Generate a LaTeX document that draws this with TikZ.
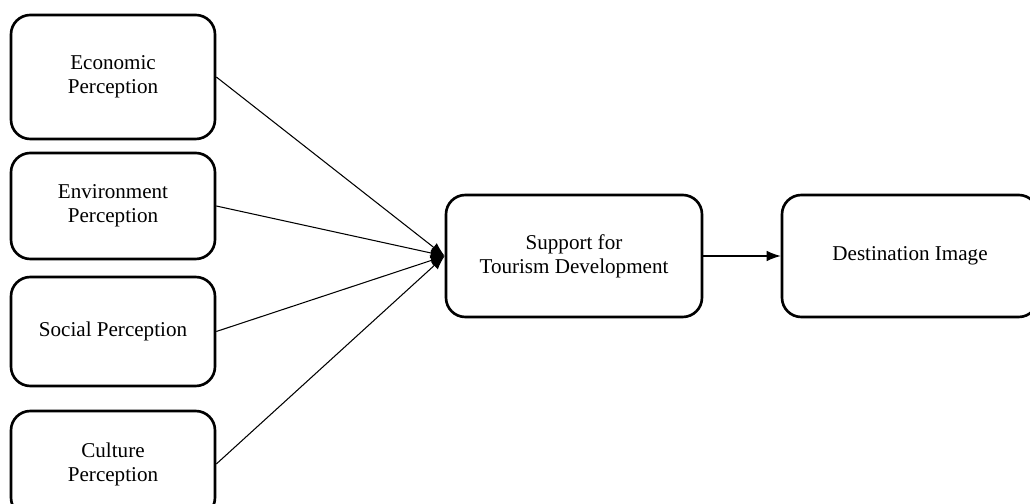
\documentclass[tikz,border=0pt]{standalone}
\usepackage{fontspec}
\setmainfont{Liberation Serif}
\usepackage{tikz}
\usetikzlibrary{arrows.meta}

\tikzset{
  factorbox/.style={draw=black, line width=1.5pt, rounded corners=11pt, align=center,
    font=\fontsize{12}{13.6}\selectfont, inner sep=2pt},
  link/.style={draw=black, line width=0.6pt, -{Latex[length=8pt, width=6pt]}}
}

\begin{document}
\begin{tikzpicture}
    \useasboundingbox (0,0) rectangle (20.6,10.08);
    % Perception boxes
    \node[factorbox, minimum width=4.08cm, minimum height=2.48cm] (econ) at (2.26,8.54) {Economic\\Perception};
    \node[factorbox, minimum width=4.08cm, minimum height=2.12cm] (env) at (2.26,5.96) {Environment\\Perception};
    \node[factorbox, minimum width=4.08cm, minimum height=2.18cm] (soc) at (2.26,3.45) {Social Perception};
    \node[factorbox, minimum width=4.08cm, minimum height=2.12cm] (cult) at (2.26,0.80) {Culture\\Perception};
    % Support and image
    \node[factorbox, minimum width=5.12cm, minimum height=2.44cm] (support) at (11.48,4.96) {Support for\\Tourism Development};
    \node[factorbox, minimum width=5.12cm, minimum height=2.44cm] (image) at (18.20,4.96) {Destination Image};
    % Links
    \draw[link] (econ.east) -- (support.west);
    \draw[link] (env.east) -- (support.west);
    \draw[link] (soc.east) -- (support.west);
    \draw[link] (cult.east) -- (support.west);
    \draw[link] (support.east) -- (image.west);
  \end{tikzpicture}
\end{document}
